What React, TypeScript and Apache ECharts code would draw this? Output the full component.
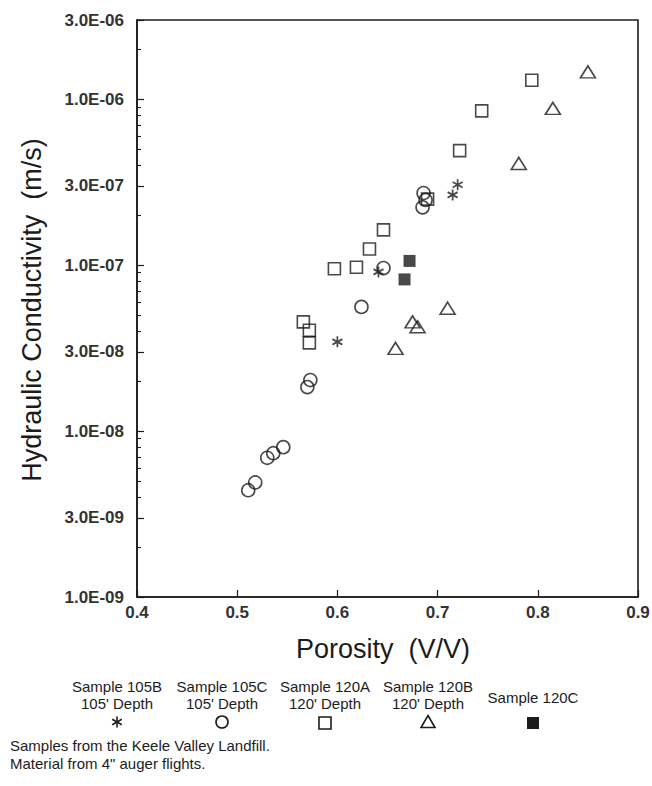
import React, { useEffect, useRef } from "react";
import * as echarts from "echarts";

// ---- Data (porosity V/V, hydraulic conductivity m/s) ----
const s105B_x = [0.72, 0.715, 0.641, 0.6];
const s105B_y = [3.05e-7, 2.65e-7, 9.1e-8, 3.45e-8];

const s105C_x = [0.686, 0.688, 0.685, 0.646, 0.624, 0.573, 0.57, 0.546, 0.536, 0.53, 0.518, 0.511];
const s105C_y = [2.72e-7, 2.47e-7, 2.23e-7, 9.6e-8, 5.6e-8, 2.03e-8, 1.84e-8, 8.0e-9, 7.35e-9, 6.9e-9, 4.9e-9, 4.4e-9];

const s120A_x = [0.794, 0.744, 0.722, 0.69, 0.646, 0.632, 0.597, 0.619, 0.566, 0.572, 0.572];
const s120A_y = [1.3e-6, 8.5e-7, 4.9e-7, 2.5e-7, 1.63e-7, 1.25e-7, 9.5e-8, 9.7e-8, 4.55e-8, 4.05e-8, 3.4e-8];

const s120B_x = [0.85, 0.815, 0.781, 0.71, 0.675, 0.68, 0.658];
const s120B_y = [1.46e-6, 8.8e-7, 4.1e-7, 5.5e-8, 4.55e-8, 4.25e-8, 3.15e-8];

const s120C_x = [0.672, 0.667];
const s120C_y = [1.06e-7, 8.2e-8];

const yLabelValues = [1e-9, 3e-9, 1e-8, 3e-8, 1e-7, 3e-7, 1e-6, 3e-6];
const yMinorMultipliers = [2, 4, 5, 6, 7, 8, 9];
const yDecades = [-9, -8, -7, -6];

const legendItems = [
  { line1: "Sample 105B", line2: "105' Depth" },
  { line1: "Sample 105C", line2: "105' Depth" },
  { line1: "Sample 120A", line2: "120' Depth" },
  { line1: "Sample 120B", line2: "120' Depth" },
  { line1: "Sample 120C", line2: "" },
];
const footnotes = ["Samples from the Keele Valley Landfill.", 'Material from 4" auger flights.'];

const Y_MIN = -9;
const Y_MAX = Math.log10(3e-6);
const INK = "#1c1c1c";
const FONT = "'Liberation Sans', Arial, sans-serif";

const toPts = (xs: number[], ys: number[]) => xs.map((x, i) => [x, Math.log10(ys[i])]);

const fmtSci = (lv: number) => {
  const v = Math.pow(10, lv);
  let e = Math.floor(lv + 1e-9);
  let m = v / Math.pow(10, e);
  if (m >= 9.95) {
    m = m / 10;
    e += 1;
  }
  const sign = e < 0 ? "-" : "+";
  return `${m.toFixed(1)}E${sign}${String(Math.abs(e)).padStart(2, "0")}`;
};

const ASTERISK = "path://M0,-5L0,5M-4.33,-2.5L4.33,2.5M-4.33,2.5L4.33,-2.5";

export default function App() {
  const ref = useRef<HTMLDivElement>(null);

  useEffect(() => {
    document.body.style.margin = "0";
    if (!ref.current) return;
    const chart = echarts.init(ref.current, undefined, { renderer: "svg" });

    const majorTicks = yLabelValues.map((v) => Math.log10(v));
    const minorTicks: number[] = [];
    yDecades.forEach((d) => {
      yMinorMultipliers.forEach((k) => {
        const lv = Math.log10(k * Math.pow(10, d));
        if (lv > Y_MIN && lv < Y_MAX) minorTicks.push(lv);
      });
    });

    const hollow = { color: "rgba(0,0,0,0)", borderColor: INK, borderWidth: 1.6 };

    const LFONT = `15px ${FONT}`;
    const colX = [117, 222, 325, 428, 533];
    const legendGraphics: any[] = [];
    legendItems.forEach((it, i) => {
      if (it.line2) {
        legendGraphics.push({
          type: "text", x: colX[i], y: 686,
          style: { text: it.line1, font: LFONT, fill: INK, textAlign: "center", textVerticalAlign: "middle" },
        });
        legendGraphics.push({
          type: "text", x: colX[i], y: 703,
          style: { text: it.line2, font: LFONT, fill: INK, textAlign: "center", textVerticalAlign: "middle" },
        });
      } else {
        legendGraphics.push({
          type: "text", x: colX[i], y: 697,
          style: { text: it.line1, font: LFONT, fill: INK, textAlign: "center", textVerticalAlign: "middle" },
        });
      }
    });
    const my = 722;
    legendGraphics.push({
      type: "group",
      children: [
        { type: "line", shape: { x1: colX[0], y1: my - 5.5, x2: colX[0], y2: my + 5.5 }, style: { stroke: INK, lineWidth: 1.6 } },
        { type: "line", shape: { x1: colX[0] - 4.8, y1: my - 2.8, x2: colX[0] + 4.8, y2: my + 2.8 }, style: { stroke: INK, lineWidth: 1.6 } },
        { type: "line", shape: { x1: colX[0] - 4.8, y1: my + 2.8, x2: colX[0] + 4.8, y2: my - 2.8 }, style: { stroke: INK, lineWidth: 1.6 } },
      ],
    });
    legendGraphics.push({ type: "circle", shape: { cx: colX[1], cy: my, r: 6 }, style: { fill: "none", stroke: INK, lineWidth: 1.6 } });
    legendGraphics.push({ type: "rect", shape: { x: colX[2] - 6, y: my - 5, width: 12, height: 12 }, style: { fill: "none", stroke: INK, lineWidth: 1.6 } });
    legendGraphics.push({
      type: "polygon",
      shape: { points: [[colX[3], my - 6.5], [colX[3] + 7, my + 5.5], [colX[3] - 7, my + 5.5]] },
      style: { fill: "none", stroke: INK, lineWidth: 1.6 },
    });
    legendGraphics.push({ type: "rect", shape: { x: colX[4] - 6, y: my - 5, width: 12, height: 12 }, style: { fill: INK } });
    footnotes.forEach((t, i) => {
      legendGraphics.push({
        type: "text", x: 10, y: 745 + i * 18,
        style: { text: t, font: LFONT, fill: INK, textAlign: "left", textVerticalAlign: "middle" },
      });
    });

    const option: any = {
      animation: false,
      backgroundColor: "#ffffff",
      grid: {
        left: 137, right: 14, top: 20, bottom: 189,
        show: true, borderColor: INK, borderWidth: 1.6, backgroundColor: "transparent",
        containLabel: false, outerBoundsMode: "none",
      },
      xAxis: {
        type: "value", min: 0.4, max: 0.9, interval: 0.1,
        axisLine: { show: true, lineStyle: { color: INK, width: 1.6 } },
        axisTick: { show: true, inside: true, length: 7, lineStyle: { color: INK, width: 1.2 } },
        axisLabel: {
          show: true, margin: 7, color: "#333", fontFamily: FONT, fontSize: 17, fontWeight: "bold",
          formatter: (v: number) => v.toFixed(1), showMinLabel: true, showMaxLabel: true,
        },
        splitLine: { show: false },
      },
      yAxis: [
        {
          type: "value", min: Y_MIN, max: Y_MAX,
          axisLine: { show: true, lineStyle: { color: INK, width: 1.6 } },
          axisTick: { show: true, inside: true, length: 7, customValues: majorTicks, lineStyle: { color: INK, width: 1.2 } },
          axisLabel: {
            show: true, margin: 13, color: "#333", fontFamily: FONT, fontSize: 17, fontWeight: "bold",
            customValues: majorTicks, formatter: (v: number) => fmtSci(v),
          },
          splitLine: { show: false },
        },
        {
          type: "value", min: Y_MIN, max: Y_MAX, position: "left",
          axisLine: { show: false },
          axisTick: { show: true, inside: true, length: 4, customValues: minorTicks, lineStyle: { color: INK, width: 1.1 } },
          axisLabel: { show: false },
          splitLine: { show: false },
        },
      ],
      graphic: [
        {
          type: "text", x: 32, y: 310, rotation: Math.PI / 2,
          style: { text: "Hydraulic Conductivity  (m/s)", font: `27px ${FONT}`, fill: INK, textAlign: "center", textVerticalAlign: "middle" },
        },
        {
          type: "text", x: 383, y: 649,
          style: { text: "Porosity  (V/V)", font: `27px ${FONT}`, fill: INK, textAlign: "center", textVerticalAlign: "middle" },
        },
        ...legendGraphics,
      ],
      series: [
        {
          name: "Sample 105B", type: "scatter", data: toPts(s105B_x, s105B_y),
          symbol: ASTERISK, symbolSize: [10, 11],
          itemStyle: { color: "rgba(0,0,0,0)", borderColor: INK, borderWidth: 1.8 },
        },
        {
          name: "Sample 105C", type: "scatter", data: toPts(s105C_x, s105C_y),
          symbol: "circle", symbolSize: 13, itemStyle: hollow,
        },
        {
          name: "Sample 120A", type: "scatter", data: toPts(s120A_x, s120A_y),
          symbol: "rect", symbolSize: 12, itemStyle: hollow,
        },
        {
          name: "Sample 120B", type: "scatter", data: toPts(s120B_x, s120B_y),
          symbol: "triangle", symbolSize: [15, 12], itemStyle: hollow,
        },
        {
          name: "Sample 120C", type: "scatter", data: toPts(s120C_x, s120C_y),
          symbol: "rect", symbolSize: 12, itemStyle: { color: INK },
        },
      ],
    };

    chart.setOption(option);
    return () => chart.dispose();
  }, []);

  return <div ref={ref} style={{ width: 652, height: 786 }} />;
}
